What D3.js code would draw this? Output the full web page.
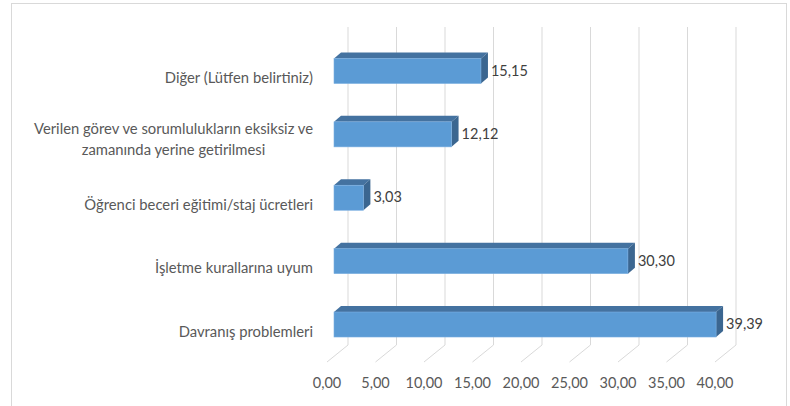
<!DOCTYPE html>
<html>
<head>
<meta charset="utf-8">
<script src="https://cdn.jsdelivr.net/npm/d3@7"></script>
<style>
  body { margin: 0; background: #fff; }
  svg { display: block; font-family: Lato, "Open Sans", sans-serif; }
</style>
</head>
<body>
<svg id="chart" width="790" height="406"></svg>
<script>
// categories, top to bottom
var categories = [
  ["Diğer (Lütfen belirtiniz)"],
  ["Verilen görev ve sorumlulukların eksiksiz ve", "zamanında yerine getirilmesi"],
  ["Öğrenci beceri eğitimi/staj ücretleri"],
  ["İşletme kurallarına uyum"],
  ["Davranış problemleri"]
];
var values = [15.15, 12.12, 3.03, 30.30, 39.39];
var ticks = [0, 5, 10, 15, 20, 25, 30, 35, 40];

var svg = d3.select("#chart");
var fmt = function (v) { return v.toFixed(2).replace(".", ","); };

// outer frame
svg.append("rect")
  .attr("x", 11.5).attr("y", 3.5)
  .attr("width", 775).attr("height", 420)
  .attr("fill", "none").attr("stroke", "#d9d9d9");

// x in the plane of the bar fronts
var x = d3.scaleLinear().domain([0, 40]).range([334, 722]);
var y = d3.scaleBand().domain(d3.range(categories.length)).range([39.3, 356.2]);

var wallDx = 14, wallTop = 27, wallBottom = 345;
var floorDx = -7, floorY = 362;
var depthX = 7, depthY = -6, barH = 25;

// gridlines: back wall + floor diagonals
var grid = svg.append("g").attr("stroke", "#d9d9d9").attr("fill", "none");
grid.selectAll("path")
  .data(ticks)
  .enter()
  .append("path")
  .attr("d", d => "M" + (x(d) + wallDx) + "," + wallTop +
                  "V" + wallBottom +
                  "L" + (x(d) + floorDx) + "," + floorY);

// tick labels
svg.append("g")
  .selectAll("text")
  .data(ticks)
  .enter()
  .append("text")
  .attr("x", d => x(d) + floorDx)
  .attr("y", 388)
  .attr("text-anchor", "middle")
  .attr("fill", "#595959")
  .attr("font-size", 14.5)
  .text(d => fmt(d));

// bars
var bars = svg.append("g")
  .selectAll("g")
  .data(values)
  .enter()
  .append("g")
  .attr("transform", (d, i) => "translate(0," + (y(i) + y.bandwidth() / 2 - barH / 2) + ")");

// top face
bars.append("path")
  .attr("d", d => "M" + x(0) + ",0L" + (x(0) + depthX) + "," + depthY +
                  "H" + (x(d) + depthX) + "L" + x(d) + ",0Z")
  .attr("fill", "#4472a0");

// side face
bars.append("path")
  .attr("d", d => "M" + x(d) + ",0L" + (x(d) + depthX) + "," + depthY +
                  "V" + (barH + depthY) + "L" + x(d) + "," + barH + "Z")
  .attr("fill", "#3b6690");

// front face
bars.append("rect")
  .attr("x", x(0))
  .attr("y", 0)
  .attr("width", d => x(d) - x(0))
  .attr("height", barH)
  .attr("fill", "#5b9bd5")
  .attr("stroke", "#7aaee0")
  .attr("stroke-width", 0.6);

// value labels
bars.append("text")
  .attr("x", d => x(d) + depthX + 3)
  .attr("y", barH / 2 - 0.5)
  .attr("dy", "0.35em")
  .attr("fill", "#404040")
  .attr("font-size", 14.5)
  .text(d => fmt(d));

// category labels, lines centred within a right-aligned block
var labels = svg.append("g")
  .selectAll("text")
  .data(categories)
  .enter()
  .append("text")
  .attr("fill", "#595959")
  .attr("font-size", 14.8)
  .attr("text-anchor", "middle");

labels.each(function (lines, i) {
  var t = d3.select(this);
  var cy = y(i) + y.bandwidth() / 2 + 12;
  var lh = 21;
  t.selectAll("tspan")
    .data(lines)
    .enter()
    .append("tspan")
    .attr("y", (d, j) => cy + (j - (lines.length - 1) / 2) * lh - (lines.length - 1) * 1.5)
    .text(d => d);
  // measure widest line and centre all lines on it
  var w = d3.max(t.selectAll("tspan").nodes(), n => n.getComputedTextLength());
  t.selectAll("tspan").attr("x", 313 - w / 2);
});
</script>
</body>
</html>
